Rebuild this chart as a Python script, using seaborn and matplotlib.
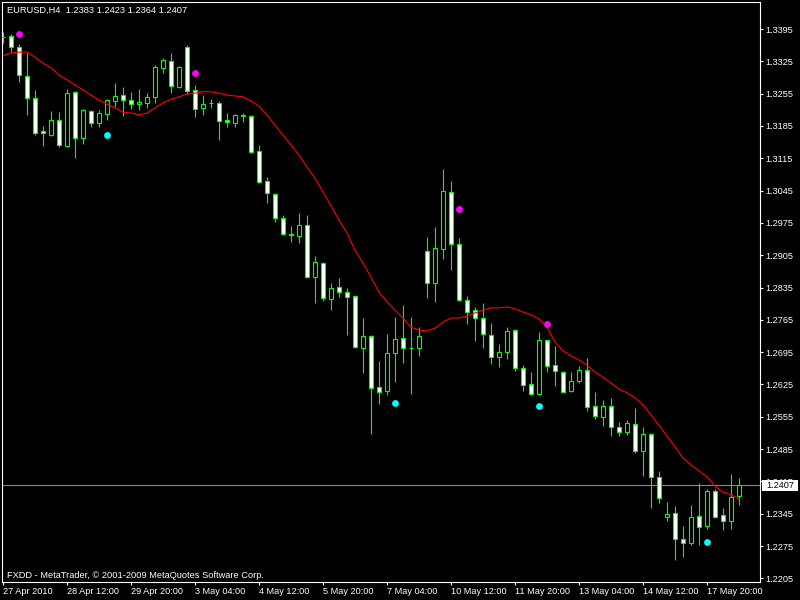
import numpy as np
import pandas as pd
import matplotlib
matplotlib.use('Agg')
import matplotlib.pyplot as plt
from matplotlib.patches import Rectangle
import seaborn as sns

# EURUSD H4 candles
opens = [1.3378, 1.3380, 1.3356, 1.3293, 1.3246, 1.3174, 1.3165, 1.3198, 1.3142, 1.3259,
         1.3159, 1.3217, 1.3191, 1.3211, 1.3239, 1.3252, 1.3241, 1.3232, 1.3235, 1.3248,
         1.3311, 1.3326, 1.3269, 1.3356, 1.3263, 1.3224, 1.3234, 1.3235, 1.3198, 1.3191,
         1.3209, 1.3207, 1.3131, 1.3066, 1.3038, 1.2986, 1.2950, 1.2947, 1.2970, 1.2858,
         1.2888, 1.2810, 1.2836, 1.2825, 1.2817, 1.2704, 1.2730, 1.2620, 1.2611, 1.2693,
         1.2726, 1.2704, 1.2703, 1.2914, 1.2845, 1.2918, 1.3042, 1.2929, 1.2808, 1.2786,
         1.2769, 1.2732, 1.2685, 1.2695, 1.2743, 1.2661, 1.2626, 1.2604, 1.2721, 1.2667,
         1.2652, 1.2611, 1.2633, 1.2656, 1.2578, 1.2555, 1.2578, 1.2533, 1.2522, 1.2539,
         1.2481, 1.2518, 1.2425, 1.2338, 1.2347, 1.2290, 1.2282, 1.2340, 1.2319, 1.2394,
         1.2342, 1.2329, 1.2383]
highs = [1.3389, 1.3384, 1.3363, 1.3343, 1.3263, 1.3185, 1.3217, 1.3215, 1.3265, 1.3261,
         1.3222, 1.3220, 1.3220, 1.3243, 1.3278, 1.3269, 1.3259, 1.3265, 1.3256, 1.3317,
         1.3332, 1.3343, 1.3315, 1.3360, 1.3274, 1.3252, 1.3243, 1.3239, 1.3213, 1.3211,
         1.3213, 1.3208, 1.3144, 1.3074, 1.3040, 1.2992, 1.2968, 1.2996, 1.2992, 1.2903,
         1.2890, 1.2845, 1.2856, 1.2834, 1.2819, 1.2769, 1.2732, 1.2676, 1.2734, 1.2771,
         1.2797, 1.2771, 1.2749, 1.2944, 1.2966, 1.3092, 1.3066, 1.2942, 1.2817, 1.2793,
         1.2802, 1.2758, 1.2713, 1.2749, 1.2745, 1.2667, 1.2652, 1.2739, 1.2722, 1.2708,
         1.2654, 1.2652, 1.2665, 1.2682, 1.2609, 1.2591, 1.2596, 1.2544, 1.2548, 1.2574,
         1.2533, 1.2519, 1.2438, 1.2370, 1.2362, 1.2319, 1.2364, 1.2412, 1.2399, 1.2399,
         1.2357, 1.2431, 1.2423]
lows = [1.3365, 1.3343, 1.3280, 1.3209, 1.3165, 1.3142, 1.3163, 1.3139, 1.3140, 1.3116,
        1.3146, 1.3183, 1.3183, 1.3198, 1.3226, 1.3207, 1.3222, 1.3220, 1.3224, 1.3235,
        1.3300, 1.3256, 1.3267, 1.3254, 1.3204, 1.3209, 1.3224, 1.3155, 1.3183, 1.3183,
        1.3194, 1.3126, 1.3062, 1.3018, 1.2977, 1.2949, 1.2934, 1.2931, 1.2856, 1.2801,
        1.2806, 1.2786, 1.2814, 1.2732, 1.2704, 1.2650, 1.2518, 1.2583, 1.2602, 1.2630,
        1.2672, 1.2604, 1.2687, 1.2812, 1.2804, 1.2897, 1.2873, 1.2806, 1.2756, 1.2719,
        1.2704, 1.2669, 1.2663, 1.2680, 1.2654, 1.2611, 1.2603, 1.2603, 1.2652, 1.2622,
        1.2608, 1.2609, 1.2628, 1.2568, 1.2550, 1.2535, 1.2513, 1.2513, 1.2516, 1.2477,
        1.2427, 1.2357, 1.2368, 1.2329, 1.2245, 1.2251, 1.2277, 1.2277, 1.2312, 1.2336,
        1.2310, 1.2312, 1.2364]
closes = [1.3377, 1.3356, 1.3295, 1.3246, 1.3170, 1.3170, 1.3198, 1.3144, 1.3256, 1.3159,
          1.3220, 1.3191, 1.3213, 1.3241, 1.3250, 1.3241, 1.3232, 1.3237, 1.3248, 1.3313,
          1.3328, 1.3271, 1.3313, 1.3261, 1.3222, 1.3232, 1.3235, 1.3196, 1.3194, 1.3209,
          1.3207, 1.3129, 1.3064, 1.3040, 1.2986, 1.2951, 1.2949, 1.2970, 1.2858, 1.2890,
          1.2812, 1.2834, 1.2825, 1.2814, 1.2706, 1.2730, 1.2617, 1.2609, 1.2693, 1.2723,
          1.2704, 1.2703, 1.2730, 1.2845, 1.2921, 1.3044, 1.2929, 1.2808, 1.2782, 1.2769,
          1.2734, 1.2685, 1.2695, 1.2741, 1.2661, 1.2624, 1.2604, 1.2721, 1.2665, 1.2654,
          1.2609, 1.2633, 1.2656, 1.2576, 1.2557, 1.2578, 1.2533, 1.2522, 1.2542, 1.2481,
          1.2518, 1.2425, 1.2379, 1.2344, 1.2290, 1.2282, 1.2338, 1.2316, 1.2394, 1.2338,
          1.2329, 1.2381, 1.2407]
# red moving average line
ma = [1.3337, 1.3343, 1.3345, 1.3345, 1.3334, 1.3321, 1.3311, 1.3295, 1.3285, 1.3274,
      1.3263, 1.3252, 1.3241, 1.3232, 1.3224, 1.3215, 1.3213, 1.3209, 1.3213, 1.3224,
      1.3235, 1.3243, 1.3248, 1.3254, 1.3256, 1.3259, 1.3259, 1.3256, 1.3252, 1.3250,
      1.3248, 1.3239, 1.3228, 1.3209, 1.3187, 1.3165, 1.3144, 1.3122, 1.3096, 1.3072,
      1.3042, 1.3012, 1.2981, 1.2953, 1.2916, 1.2888, 1.2858, 1.2825, 1.2804, 1.2786,
      1.2769, 1.2749, 1.2743, 1.2741, 1.2747, 1.2760, 1.2769, 1.2769, 1.2773, 1.2780,
      1.2786, 1.2791, 1.2791, 1.2793, 1.2789, 1.2782, 1.2776, 1.2767, 1.2749, 1.2717,
      1.2698, 1.2687, 1.2678, 1.2667, 1.2652, 1.2641, 1.2628, 1.2615, 1.2607, 1.2596,
      1.2581, 1.2559, 1.2537, 1.2513, 1.2490, 1.2466, 1.2451, 1.2438, 1.2425, 1.2405,
      1.2392, 1.2386, 1.2377]

# indicator dots
up_bars = [2, 24, 57, 68]
up_vals = [1.3384, 1.3300, 1.3005, 1.2757]
down_bars = [13, 49, 67, 88]
down_vals = [1.3165, 1.2585, 1.2578, 1.2284]

xtick_bars = [0, 8, 16, 24, 32, 40, 48, 56, 64, 72, 80, 88]
xtick_labels = ['27 Apr 2010', '28 Apr 12:00', '29 Apr 20:00', '3 May 04:00',
                '4 May 12:00', '5 May 20:00', '7 May 04:00', '10 May 12:00',
                '11 May 20:00', '13 May 04:00', '14 May 12:00', '17 May 20:00']
ytick_labels = ['1.3395', '1.3325', '1.3255', '1.3185', '1.3115', '1.3045',
                '1.2975', '1.2905', '1.2835', '1.2765', '1.2695', '1.2625',
                '1.2555', '1.2485', '1.2415', '1.2345', '1.2275', '1.2205']
last_price = 1.2407

df = pd.DataFrame({'open': opens, 'high': highs, 'low': lows, 'close': closes, 'ma': ma})
df['bar'] = np.arange(len(df))
bull = df['close'] >= df['open']

sns.set_style('ticks', rc={'axes.facecolor': 'black', 'figure.facecolor': 'black',
                           'axes.edgecolor': 'white', 'xtick.color': 'white',
                           'ytick.color': 'white', 'text.color': 'white', 'axes.grid': False})
plt.rcParams['font.family'] = ['Liberation Sans', 'DejaVu Sans']

fig = plt.figure(figsize=(8, 6), dpi=100)
ax = fig.add_axes([2 / 800, 18 / 600, 758 / 800, 580 / 600])

green = '#00ff00'
ax.axhline(last_price, color='#778899', lw=0.8, zorder=1)
ax.vlines(df['bar'], df['low'], df['high'], color=green, lw=0.8, zorder=2)
body = (df['close'] - df['open']).abs().clip(lower=0.00001)
ax.bar(df['bar'], body, bottom=df[['open', 'close']].min(axis=1), width=0.5,
       color=np.where(bull, 'black', 'white'), edgecolor=green, linewidth=0.8, zorder=3)

sns.lineplot(data=df, x='bar', y='ma', color='red', lw=0.8, ax=ax, zorder=4)
sns.scatterplot(x=up_bars, y=up_vals, color='#ff00ff', s=24, linewidth=0, ax=ax, zorder=5)
sns.scatterplot(x=down_bars, y=down_vals, color='#00ffff', s=24, linewidth=0, ax=ax, zorder=5)

ax.set_xlim(-0.125, 94.625)
ax.set_ylim(1.21972, 1.34535)
ax.set_xlabel('')
ax.set_ylabel('')

ax.yaxis.tick_right()
ax.set_yticks([float(t) for t in ytick_labels])
ax.set_yticklabels(ytick_labels)
ax.set_xticks(xtick_bars)
ax.set_xticklabels(xtick_labels, ha='left')
ax.tick_params(axis='both', colors='white', labelsize=6.6, length=2.2, width=0.8, pad=1.5)
for s in ax.spines.values():
    s.set_visible(True)
    s.set_color('white')
    s.set_linewidth(0.8)

fig.text(7 / 800, 1 - 10 / 600, 'EURUSD,H4  1.2383 1.2423 1.2364 1.2407',
         ha='left', va='center', color='white', fontsize=6.7)
fig.text(7 / 800, 1 - 575 / 600, 'FXDD - MetaTrader, © 2001-2009 MetaQuotes Software Corp.',
         ha='left', va='center', color='white', fontsize=6.7)

# current price tag on the right axis
fig.patches.append(Rectangle((762 / 800, 1 - 491 / 600), 36 / 800, 11 / 600,
                             transform=fig.transFigure, facecolor='white', edgecolor='none'))
fig.text(780 / 800, 1 - 485.5 / 600, '%.4f' % last_price, ha='center', va='center',
         color='black', fontsize=6.6)

fig.savefig('out.png', dpi=100, facecolor='black')
